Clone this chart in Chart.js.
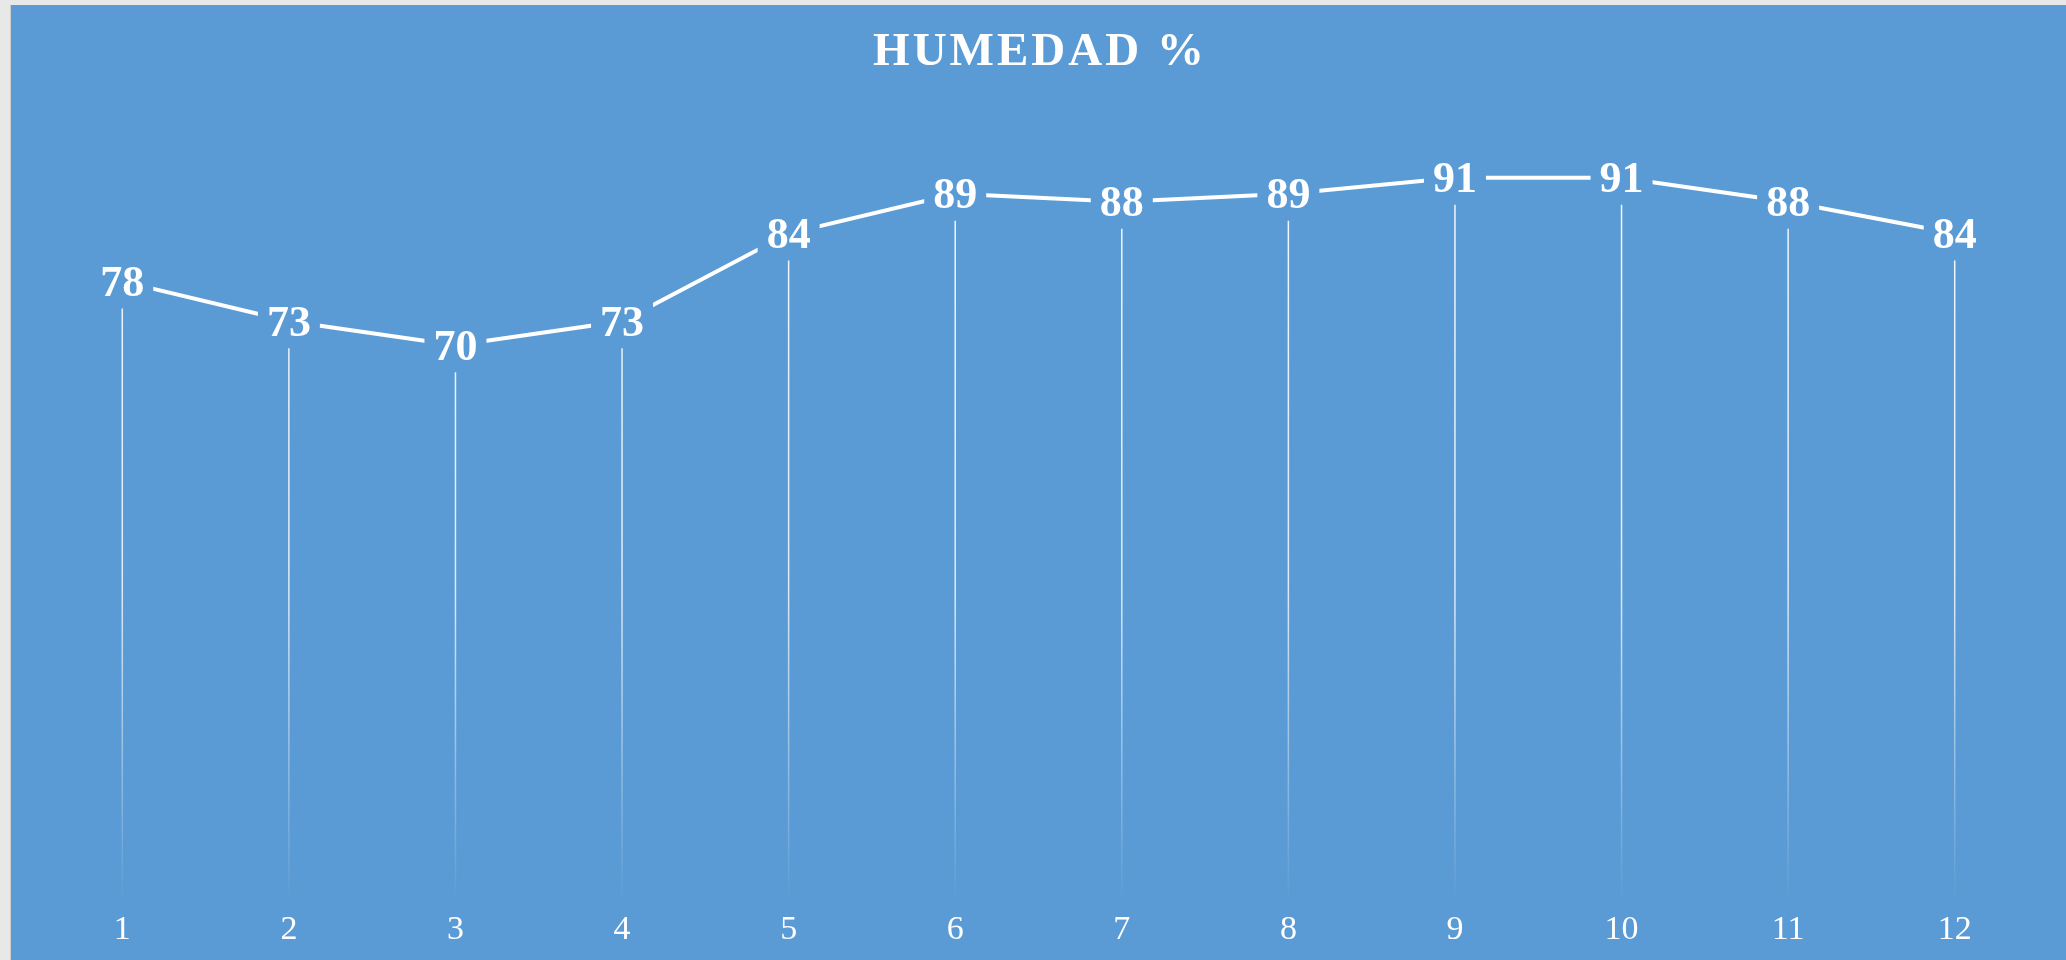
<!DOCTYPE html>
<html lang="es">
<head>
<meta charset="utf-8">
<title>Humedad %</title>
<script src="https://cdn.jsdelivr.net/npm/chart.js@4/dist/chart.umd.min.js"></script>
<style>
  html, body { margin:0; padding:0; background:#e8e8e8; overflow:hidden; }
  .rahmen {
    position:absolute; left:10px; top:5px; width:2056px; height:955px;
    background:#5b9bd5; border-left:1px solid #cdcdcd; box-sizing:border-box;
  }
</style>
</head>
<body>
<div class="rahmen">
  <canvas id="chart-humedad"></canvas>
</div>
<script>
// ═══════════════════════════════════════════
// Humedad % – Linie mit Lotlinien
// ═══════════════════════════════════════════

const TITEL   = 'HUMEDAD %';
const monate  = ['1','2','3','4','5','6','7','8','9','10','11','12'];
const humedad = [78, 73, 70, 73, 84, 89, 88, 89, 91, 91, 88, 84];
const yMin = 0;
const yMax = 100;

const BLAU    = '#5b9bd5';
const SCHRIFT = "'Liberation Serif', 'DejaVu Serif', serif";

// ── Titel (mit Sperrung) ──
const titelPlugin = {
  id: 'titel',
  afterDraw(chart) {
    const ctx = chart.ctx;
    ctx.save();
    ctx.font = `bold 47px ${SCHRIFT}`;
    ctx.letterSpacing = '3px';
    ctx.fillStyle = '#ffffff';
    ctx.textAlign = 'center';
    ctx.textBaseline = 'middle';
    ctx.fillText(TITEL, chart.width / 2 + 1.5, 48);
    ctx.restore();
  }
};

// ── Lotlinien vom Punkt zur Achse, nach unten ausblendend ──
const lotPlugin = {
  id: 'lotlinien',
  beforeDatasetsDraw(chart) {
    const { ctx, chartArea } = chart;
    const meta = chart.getDatasetMeta(0);
    const grad = ctx.createLinearGradient(0, chartArea.top, 0, chartArea.bottom);
    grad.addColorStop(0, 'rgba(255,255,255,0.95)');
    grad.addColorStop(0.6, 'rgba(255,255,255,0.8)');
    grad.addColorStop(1, 'rgba(255,255,255,0)');
    ctx.save();
    ctx.strokeStyle = grad;
    ctx.lineWidth = 1.5;
    meta.data.forEach(p => {
      ctx.beginPath();
      ctx.moveTo(p.x, p.y + 27);
      ctx.lineTo(p.x, chartArea.bottom);
      ctx.stroke();
    });
    ctx.restore();
  }
};

// ── Datenbeschriftungen (Hintergrund unterbricht die Linie) ──
const labelPlugin = {
  id: 'werte',
  afterDatasetsDraw(chart) {
    const ctx = chart.ctx;
    const meta = chart.getDatasetMeta(0);
    const werte = chart.data.datasets[0].data;
    ctx.save();
    ctx.font = `bold 44px ${SCHRIFT}`;
    ctx.textAlign = 'center';
    ctx.textBaseline = 'middle';
    meta.data.forEach((p, i) => {
      const txt = String(werte[i]);
      const w = ctx.measureText(txt).width;
      ctx.fillStyle = BLAU;
      ctx.fillRect(p.x - w / 2 - 9, p.y - 21, w + 18, 44);
      ctx.fillStyle = '#ffffff';
      ctx.fillText(txt, p.x, p.y + 3);
    });
    ctx.restore();
  }
};

new Chart(document.getElementById('chart-humedad'), {
  type: 'line',
  data: {
    labels: monate,
    datasets: [{
      label: TITEL,
      data: humedad,
      borderColor: '#ffffff',
      borderWidth: 4,
      pointRadius: 0,
      tension: 0,
      fill: false
    }]
  },
  options: {
    responsive: true,
    maintainAspectRatio: false,
    animation: false,
    events: [],
    layout: { padding: { top: 101, left: 28, right: 28, bottom: 4 } },
    plugins: {
      legend: { display: false },
      title: { display: false },
      tooltip: { enabled: false }
    },
    scales: {
      x: {
        offset: true,
        grid: { display: false, drawTicks: false },
        border: { display: false },
        ticks: { color: '#ffffff', padding: 6, font: { family: SCHRIFT, size: 34 } }
      },
      y: { display: false, min: yMin, max: yMax }
    }
  },
  plugins: [lotPlugin, labelPlugin, titelPlugin]
});
</script>
</body>
</html>
